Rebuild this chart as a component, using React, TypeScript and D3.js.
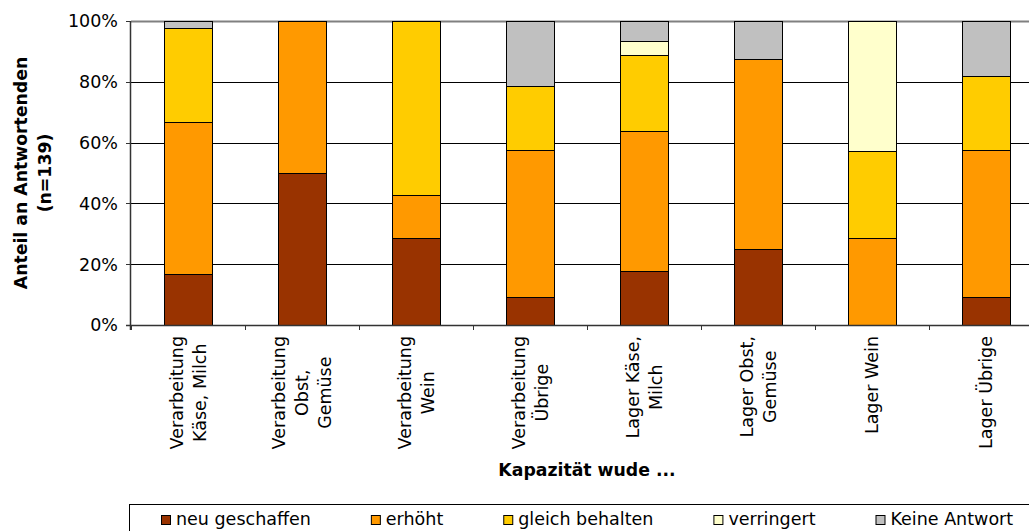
import React from 'react';
import * as d3 from 'd3';

const categories = [
  'Verarbeitung Käse, Milch',
  'Verarbeitung Obst, Gemüse',
  'Verarbeitung Wein',
  'Verarbeitung Übrige',
  'Lager Käse, Milch',
  'Lager Obst, Gemüse',
  'Lager Wein',
  'Lager Übrige',
];
const categoryLines = [
  ['Verarbeitung', 'Käse, Milch'],
  ['Verarbeitung', 'Obst,', 'Gemüse'],
  ['Verarbeitung', 'Wein'],
  ['Verarbeitung', 'Übrige'],
  ['Lager Käse,', 'Milch'],
  ['Lager Obst,', 'Gemüse'],
  ['Lager Wein'],
  ['Lager Übrige'],
];
const seriesNames = ['neu geschaffen', 'erhöht', 'gleich behalten', 'verringert', 'Keine Antwort'];
const neuGeschaffen = [16.7, 50, 28.6, 9.3, 17.7, 25, 0, 9.3];
const erhoeht = [50, 50, 14.3, 48.3, 46.0, 62.5, 28.6, 48.3];
const gleichBehalten = [30.9, 0, 57.1, 21.1, 25.1, 0, 28.5, 24.3];
const verringert = [0, 0, 0, 0, 4.6, 0, 42.9, 0];
const keineAntwort = [2.4, 0, 0, 21.3, 6.6, 12.5, 0, 18.1];
const seriesColors = ['#993300', '#FF9900', '#FFCC00', '#FFFFCC', '#C0C0C0'];
const yTicks = [0, 20, 40, 60, 80, 100];
const yTitleLines = ['Anteil an Antwortenden', '(n=139)'];
const xTitle = 'Kapazität wude ...';

const FONT = '"DejaVu Sans", Verdana, sans-serif';
const FS = 17.5;
const FSB = 17.3;

let ctx: CanvasRenderingContext2D | null = null;
function measure(text: string, bold = false) {
  if (!ctx) ctx = document.createElement('canvas').getContext('2d');
  if (!ctx) return text.length * FS * 0.6;
  ctx.font = `${bold ? 'bold ' : ''}${bold ? FSB : FS}px "DejaVu Sans"`;
  return ctx.measureText(text).width;
}

export default function App() {
  const W = 1029, H = 531;
  const x = d3.scaleBand<string>().domain(categories).range([131, 1043]).paddingInner(0.579).paddingOuter(0.2895);
  const y = d3.scaleLinear().domain([0, 100]).range([325, 21]);
  const seriesArrays = [neuGeschaffen, erhoeht, gleichBehalten, verringert, keineAntwort];
  const rows = categories.map((c, i) => {
    const r: any = { cat: c };
    seriesNames.forEach((s, k) => (r[s] = seriesArrays[k][i]));
    return r;
  });
  const stacked = d3.stack<any>().keys(seriesNames)(rows);
  const [x0, x1] = x.range();
  const step = x.step();
  const boundaries = d3.range(categories.length + 1).map((i) => x0 + i * step);

  // legend layout
  const legendGap = 60;
  let lx = 161;
  const legendItems = seriesNames.map((s, i) => {
    const item = { name: s, color: seriesColors[i], x: lx };
    lx += 15 + measure(s) + legendGap;
    return item;
  });

  const lineH = 23;
  const labelTop = 336;

  return (
    <svg width={W} height={H} style={{ position: 'absolute', left: 0, top: 0, background: '#fff' }} fontFamily={FONT}>
      <rect x={0} y={0} width={W} height={H} fill="#fff" />
      {/* gridlines */}
      {yTicks.filter((t) => t > 0 && t < 100).map((t) => (
        <line key={t} x1={x0} x2={x1} y1={Math.round(y(t)) + 0.5} y2={Math.round(y(t)) + 0.5} stroke="#000" strokeWidth={1} />
      ))}
      <line x1={x0} x2={x1} y1={Math.round(y(100)) + 0.5} y2={Math.round(y(100)) + 0.5} stroke="#808080" strokeWidth={2} />
      {/* bars */}
      {stacked.map((layer, k) => (
        <g key={layer.key} fill={seriesColors[k]} stroke="#000" strokeWidth={1}>
          {layer.filter((d) => d[1] - d[0] > 0).map((d, i) => (
            <rect key={i} x={Math.round(x(d.data.cat)!) + 0.5} y={Math.round(y(d[1])) + 0.5} width={Math.round(x.bandwidth())} height={Math.round(y(d[0])) - Math.round(y(d[1]))} />
          ))}
        </g>
      ))}
      {/* axes */}
      <line x1={x0 - 0.5} x2={x0 - 0.5} y1={y(100)} y2={y(0) + 5} stroke="#333" strokeWidth={1.5} />
      <line x1={x0 - 5} x2={x1} y1={Math.round(y(0)) + 0.5} y2={Math.round(y(0)) + 0.5} stroke="#333" strokeWidth={1.5} />
      {yTicks.map((t) => (
        <g key={t}>
          <line x1={x0 - 5} x2={x0} y1={Math.round(y(t)) + 0.5} y2={Math.round(y(t)) + 0.5} stroke="#333" />
          <text x={118} y={y(t)} dy="0.36em" textAnchor="end" fontSize={FS} fill="#000">{t}%</text>
        </g>
      ))}
      {boundaries.map((b, i) => (
        <line key={i} x1={Math.round(b) + 0.5} x2={Math.round(b) + 0.5} y1={y(0)} y2={y(0) + 5} stroke="#333" />
      ))}
      {/* category labels */}
      {categoryLines.map((lines, i) => {
        const cx = x(categories[i])! + x.bandwidth() / 2;
        const maxW = Math.max(...lines.map((l) => measure(l)));
        const cy = labelTop + maxW / 2;
        return lines.map((l, j) => {
          const lcx = cx + (j - (lines.length - 1) / 2) * lineH;
          return (
            <text key={`${i}-${j}`} transform={`translate(${lcx},${cy}) rotate(-90)`} textAnchor="middle" dy="0.36em" fontSize={FS} fill="#000">{l}</text>
          );
        });
      })}
      {/* y title */}
      {yTitleLines.map((l, j) => (
        <text key={j} transform={`translate(${21 + j * 24},${(y(0) + y(100)) / 2}) rotate(-90)`} textAnchor="middle" dy="0.36em" fontSize={FSB} fontWeight="bold" fill="#000">{l}</text>
      ))}
      {/* x title */}
      <text x={(x0 + x1) / 2} y={476} textAnchor="middle" fontSize={FSB} fontWeight="bold" fill="#000">{xTitle}</text>
      {/* legend */}
      <rect x={129.5} y={504.5} width={W} height={H} fill="#fff" stroke="#000" strokeWidth={1} />
      {legendItems.map((it) => (
        <g key={it.name}>
          <rect x={it.x + 0.5} y={515.5} width={9} height={9} fill={it.color} stroke="#000" />
          <text x={it.x + 15} y={525} fontSize={FS} fill="#000">{it.name}</text>
        </g>
      ))}
    </svg>
  );
}
